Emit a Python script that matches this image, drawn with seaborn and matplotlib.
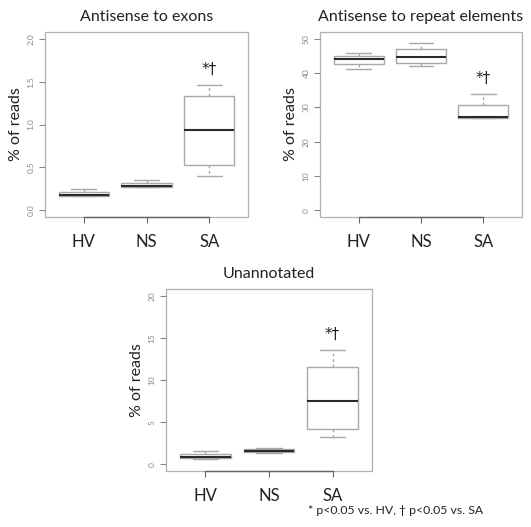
import matplotlib
matplotlib.use("Agg")
import matplotlib.pyplot as plt
import seaborn as sns
import pandas as pd
from matplotlib.patches import Rectangle

# five-number summaries (min, q1, median, q3, max)
groups = ["HV", "NS", "SA"]

exons_hv = [0.16, 0.168, 0.176, 0.215, 0.247]
exons_ns = [0.27, 0.274, 0.286, 0.313, 0.353]
exons_sa = [0.404, 0.525, 0.933, 1.333, 1.463]

repeat_hv = [41.2, 42.7, 44.1, 44.9, 45.9]
repeat_ns = [42.0, 42.9, 44.7, 47.1, 48.8]
repeat_sa = [26.9, 27.0, 27.2, 30.7, 34.0]

unannot_hv = [0.63, 0.71, 0.86, 1.26, 1.53]
unannot_ns = [1.34, 1.41, 1.61, 1.85, 1.90]
unannot_sa = [3.2, 4.2, 7.5, 11.6, 13.6]

titles = ["Antisense to exons", "Antisense to repeat elements", "Unannotated"]
y_max = [2, 50, 20]
y_ticks = [[0.0, 0.5, 1.0, 1.5, 2.0], [0, 10, 20, 30, 40, 50], [0, 5, 10, 15, 20]]
tick_fmt = ["{:.1f}", "{:d}", "{:d}"]
signif_label = "*\u2020"
footnote = "* p<0.05 vs. HV, \u2020 p<0.05 vs. SA"


def to_frame(hv, ns, sa):
    rows = []
    for g, vals in zip(groups, [hv, ns, sa]):
        rows += [{"group": g, "pct": v} for v in vals]
    return pd.DataFrame(rows)


frames = [
    to_frame(exons_hv, exons_ns, exons_sa),
    to_frame(repeat_hv, repeat_ns, repeat_sa),
    to_frame(unannot_hv, unannot_ns, unannot_sa),
]

sns.set_style("white")
plt.rcParams["font.family"] = ["Lato", "DejaVu Sans"]

fig = plt.figure(figsize=(5.31, 5.27), dpi=100)
positions = [
    [45 / 531, 1 - 217 / 527, 203 / 531, 185 / 527],
    [320 / 531, 1 - 217 / 527, 202 / 531, 185 / 527],
    [166 / 531, 1 - 471 / 527, 206 / 531, 182 / 527],
]

box_grey = "#a8a8a8"
for i, df in enumerate(frames):
    ax = fig.add_axes(positions[i])
    sns.boxplot(
        data=df, x="group", y="pct", order=groups, ax=ax,
        color="white", linecolor=box_grey, linewidth=1.0, width=0.8,
        whis=(0, 100), saturation=1,
        medianprops={"color": "#2a2a2a", "linewidth": 1.5},
        whiskerprops={"linestyle": (0, (2, 2)), "color": box_grey},
        capprops={"color": box_grey},
    )
    top = y_max[i]
    pad = 0.04 * top
    ax.set_ylim(-pad, top + pad)
    ax.set_xlim(-0.62, 2.62)
    ax.set_yticks(y_ticks[i])
    ax.set_yticklabels([tick_fmt[i].format(t) for t in y_ticks[i]])
    ax.tick_params(axis="y", labelrotation=90, labelsize=6, labelcolor="#888888",
                   color="#888888", length=4, width=0.8, left=True, direction="out")
    for lab in ax.get_yticklabels():
        lab.set_verticalalignment("center")
    ax.tick_params(axis="x", labelsize=12, labelcolor="#222222", color="#666666",
                   length=4, width=0.8, bottom=True, direction="out", pad=8)
    ax.set_xlabel("")
    ax.set_ylabel("% of reads", fontsize=11.5, labelpad=3, color="#222222")
    ax.set_title(titles[i], fontsize=11.5, pad=8, color="#222222")

    for s in ["top", "right", "left"]:
        ax.spines[s].set_visible(False)
    ax.spines["bottom"].set_bounds(0, 2)
    ax.spines["bottom"].set_color("#666666")
    ax.spines["bottom"].set_linewidth(1.0)
    ax.add_patch(Rectangle((0, 0), 1, 1, transform=ax.transAxes, fill=False,
                           edgecolor="#b0b0b0", linewidth=0.9, clip_on=False, zorder=0))

    sa_max = df.loc[df["group"] == "SA", "pct"].max()
    ax.text(2, sa_max + 0.085 * (top + 2 * pad), signif_label, ha="center",
            va="center", fontsize=11, color="#222222",
            family=["DejaVu Sans"])

fig.text(308 / 531, 1 - 511 / 527, footnote, ha="left", va="center",
         fontsize=8.8, color="#222222")

fig.savefig("out.png", dpi=100)
